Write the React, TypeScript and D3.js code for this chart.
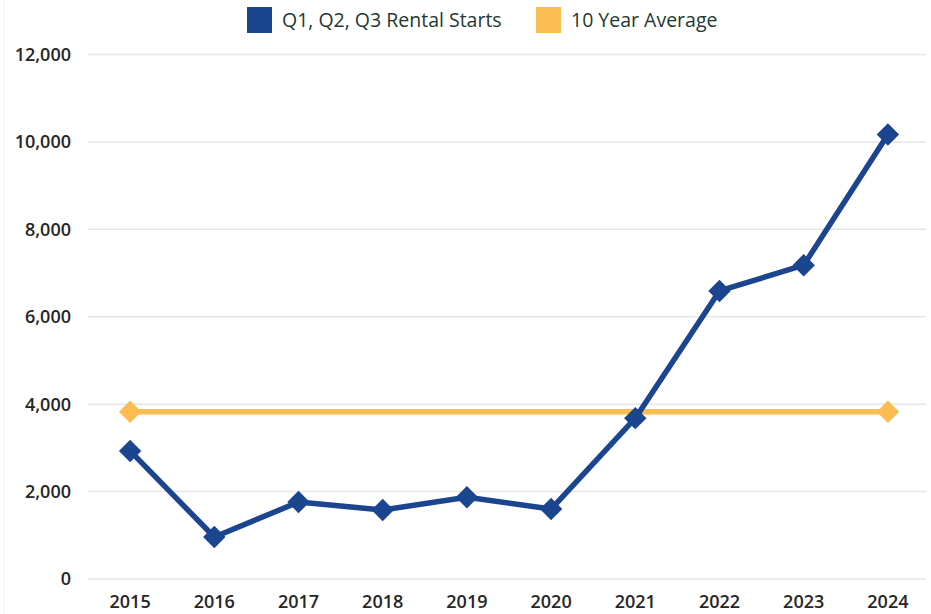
import React, { useEffect, useRef } from "react";
import * as d3 from "d3";

const years = ["2015", "2016", "2017", "2018", "2019", "2020", "2021", "2022", "2023", "2024"];
const rentalStarts = [2930, 960, 1760, 1580, 1870, 1600, 3680, 6590, 7180, 10170];
const tenYearAverage = [3825, 3825, 3825, 3825, 3825, 3825, 3825, 3825, 3825, 3825];
const yTicks = [0, 2000, 4000, 6000, 8000, 10000, 12000];
const seriesNames = ["Q1, Q2, Q3 Rental Starts", "10 Year Average"];
const seriesColors = ["#1B458F", "#FBBD52"];

const W = 931;
const H = 614;
const margin = { left: 88, right: 1, top: 54.5, bottom: 35 };

export default function App() {
  const ref = useRef<SVGSVGElement | null>(null);

  useEffect(() => {
    const svg = d3.select(ref.current);
    svg.selectAll("*").remove();

    const x = d3.scaleBand<string>().domain(years).range([margin.left, W - margin.right]);
    const y = d3.scaleLinear().domain([0, 12000]).range([H - margin.bottom, margin.top]);
    const font = "'Open Sans', Lato, sans-serif";

    // left border
    svg
      .append("line")
      .attr("x1", 4)
      .attr("x2", 4)
      .attr("y1", 0)
      .attr("y2", H)
      .attr("stroke", "#f2f2f2")
      .attr("stroke-width", 1);

    // gridlines
    svg
      .append("g")
      .selectAll("line")
      .data(yTicks)
      .join("line")
      .attr("x1", margin.left)
      .attr("x2", W - margin.right - 4)
      .attr("y1", (d) => y(d))
      .attr("y2", (d) => y(d))
      .attr("stroke", "#e6e6e6")
      .attr("stroke-width", 1.5);

    // y labels
    svg
      .append("g")
      .selectAll("text")
      .data(yTicks)
      .join("text")
      .attr("x", 71)
      .attr("y", (d) => y(d))
      .attr("dy", "0.36em")
      .attr("text-anchor", "end")
      .attr("font-family", font)
      .attr("font-size", 18)
      .attr("font-weight", 600)
      .attr("fill", "#262626")
      .text((d) => d3.format(",")(d));

    // x labels
    svg
      .append("g")
      .selectAll("text")
      .data(years)
      .join("text")
      .attr("x", (d) => (x(d) as number) + x.bandwidth() / 2)
      .attr("y", 608)
      .attr("text-anchor", "middle")
      .attr("font-family", font)
      .attr("font-size", 18)
      .attr("font-weight", 600)
      .attr("fill", "#262626")
      .text((d) => d);

    const cx = (i: number) => (x(years[i]) as number) + x.bandwidth() / 2;
    const diamond = d3.symbol().type(d3.symbolDiamond2).size(320);

    [tenYearAverage, rentalStarts].forEach((vals, k) => {
      const color = k === 0 ? seriesColors[1] : seriesColors[0];
      const line = d3
        .line<number>()
        .x((_, i) => cx(i))
        .y((d) => y(d));
      svg
        .append("path")
        .datum(vals)
        .attr("d", line)
        .attr("fill", "none")
        .attr("stroke", color)
        .attr("stroke-width", 5.5)
        .attr("stroke-linejoin", "round");
      const pts = k === 0 ? [0, vals.length - 1] : vals.map((_, i) => i);
      svg
        .append("g")
        .selectAll("path")
        .data(pts)
        .join("path")
        .attr("d", diamond as any)
        .attr("transform", (i) => `translate(${cx(i)},${y(vals[i])})`)
        .attr("fill", color);
    });

    // legend
    const leg = svg
      .append("g")
      .attr("font-family", font)
      .attr("font-size", 19.5)
      .attr("font-weight", 500)
      .attr("fill", "#1f3833");
    const legX = [247, 536];
    seriesNames.forEach((name, i) => {
      leg
        .append("rect")
        .attr("x", legX[i])
        .attr("y", 7)
        .attr("width", 25)
        .attr("height", 26)
        .attr("fill", seriesColors[i]);
      leg
        .append("text")
        .attr("x", legX[i] + 35)
        .attr("y", 27)
        .text(name);
    });
  }, []);

  return (
    <svg
      ref={ref}
      width={W}
      height={H}
      style={{ position: "fixed", left: 0, top: 0, background: "#fff" }}
    />
  );
}
